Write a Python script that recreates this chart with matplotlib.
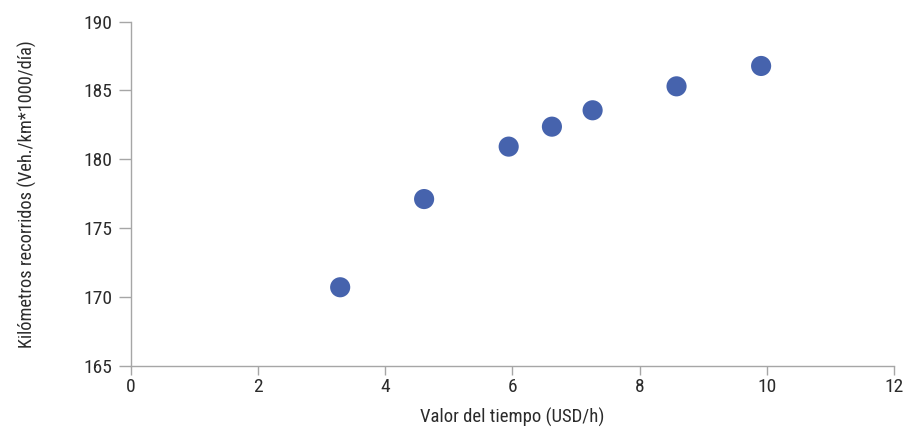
import matplotlib
matplotlib.use("Agg")
import matplotlib.pyplot as plt
from matplotlib import font_manager

# Data: value of time vs. vehicle-km travelled
valor_tiempo = [3.29, 4.61, 5.94, 6.62, 7.26, 8.58, 9.91]
km_recorridos = [170.70, 177.11, 180.92, 182.37, 183.56, 185.30, 186.78]

x_ticks = [0, 2, 4, 6, 8, 10, 12]
y_ticks = [165, 170, 175, 180, 185, 190]

available = {f.name for f in font_manager.fontManager.ttflist}
narrow = [n for n in ("Liberation Sans Narrow", "Roboto Condensed", "Open Sans Condensed",
                      "DejaVu Sans Condensed") if n in available]
family = narrow[0] if narrow else "Liberation Sans"
plt.rcParams["font.family"] = [family, "DejaVu Sans"]

axis_color = "#a6a6a6"
text_color = "#2b2b2b"

fig = plt.figure(figsize=(9.09, 4.33), dpi=100)
ax = fig.add_axes([0.1441, 0.1554, 0.8394, 0.7946])

ax.scatter(valor_tiempo, km_recorridos, s=210, color="#4663ad", edgecolors="none", zorder=3)

ax.set_xlim(0, 12)
ax.set_ylim(165, 190)
ax.set_xticks(x_ticks)
ax.set_yticks(y_ticks)

for side in ("top", "right"):
    ax.spines[side].set_visible(False)
for side in ("left", "bottom"):
    ax.spines[side].set_color(axis_color)
    ax.spines[side].set_linewidth(1.0)

ax.tick_params(axis="both", colors=axis_color, width=1.0,
               labelsize=14, labelcolor=text_color)
ax.tick_params(axis="y", length=8.6, pad=4.5)
ax.tick_params(axis="x", length=6.5, pad=2.5)

ax.set_xlabel("Valor del tiempo (USD/h)", fontsize=13.5, color=text_color, labelpad=8)
ax.set_ylabel("Kilómetros recorridos (Veh./km*1000/día)", fontsize=13.2, color=text_color,
              labelpad=34)

fig.savefig("out.png", dpi=100)
